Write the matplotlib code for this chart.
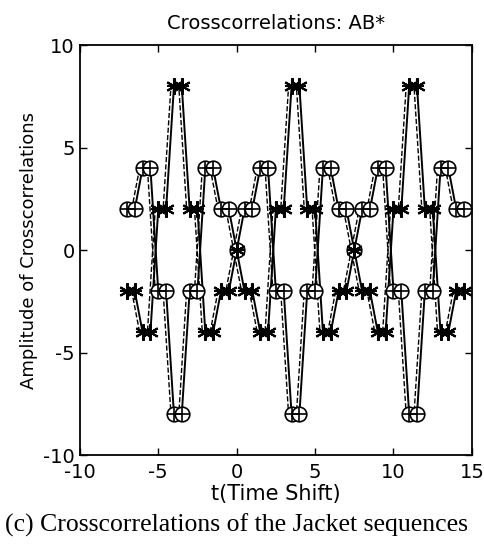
import matplotlib.pyplot as plt
import matplotlib.transforms as mtransforms

# time shift axis (step 0.5 from -7 to 14.5)
t = [-7.0, -6.5, -6.0, -5.5, -5.0, -4.5, -4.0, -3.5, -3.0, -2.5, -2.0, -1.5, -1.0, -0.5, 0.0,
     0.5, 1.0, 1.5, 2.0, 2.5, 3.0, 3.5, 4.0, 4.5, 5.0, 5.5, 6.0, 6.5, 7.0, 7.5,
     8.0, 8.5, 9.0, 9.5, 10.0, 10.5, 11.0, 11.5, 12.0, 12.5, 13.0, 13.5, 14.0, 14.5]

# circle-plus series
circ = [2, 2, 4, 4, -2, -2, -8, -8, -2, -2, 4, 4, 2, 2, 0,
        2, 2, 4, 4, -2, -2, -8, -8, -2, -2, 4, 4, 2, 2, 0,
        2, 2, 4, 4, -2, -2, -8, -8, -2, -2, 4, 4, 2, 2]

# asterisk series
star = [-2, -2, -4, -4, 2, 2, 8, 8, 2, 2, -4, -4, -2, -2, 0,
        -2, -2, -4, -4, 2, 2, 8, 8, 2, 2, -4, -4, -2, -2, 0,
        -2, -2, -4, -4, 2, 2, 8, 8, 2, 2, -4, -4, -2, -2]

plt.rcParams['font.family'] = ['DejaVu Sans']
plt.rcParams['axes.unicode_minus'] = False

fig = plt.figure(figsize=(4.84, 5.45), dpi=100)
ax = fig.add_axes([0.165, 0.165, 0.81, 0.752])

# slightly offset dashed copies, as in the scanned figure
shift = mtransforms.offset_copy(ax.transData, fig=fig, x=-3, y=0, units='dots')
ax.plot(t, circ, color='k', lw=1.0, ls='--', transform=shift)
ax.plot(t, star, color='k', lw=1.0, ls='--', transform=shift)

ax.plot(t, circ, color='k', lw=1.4)
ax.plot(t, star, color='k', lw=1.4)

ax.plot(t, circ, ls='none', marker='o', ms=10.5, mfc='white', mec='k', mew=1.2)
ax.plot(t, circ, ls='none', marker='+', ms=10.5, mec='k', mew=1.2)
ax.plot(t, star, ls='none', marker=(6, 2, 0), ms=12, mec='k', mew=1.5)
ax.plot(t, star, ls='none', marker='+', ms=10, mec='k', mew=1.5)

ax.set_xlim(-10, 15)
ax.set_ylim(-10, 10)
ax.set_xticks([-10, -5, 0, 5, 10, 15])
ax.set_yticks([-10, -5, 0, 5, 10])
ax.tick_params(direction='in', top=True, right=True, labelsize=14, length=5, width=1)
ax.tick_params(axis='x', pad=6)
for s in ax.spines.values():
    s.set_linewidth(1.3)

ax.set_title('Crosscorrelations: AB*', fontsize=14, pad=12)
ax.set_xlabel('t(Time Shift)', fontsize=15, labelpad=1)
ax.set_ylabel('Amplitude of Crosscorrelations', fontsize=13, labelpad=4)

fig.text(0.01, 0.037, '(c) Crosscorrelations of the Jacket sequences',
         family='Liberation Serif', fontsize=18.5, ha='left', va='center')

fig.savefig('out.png', dpi=100)
